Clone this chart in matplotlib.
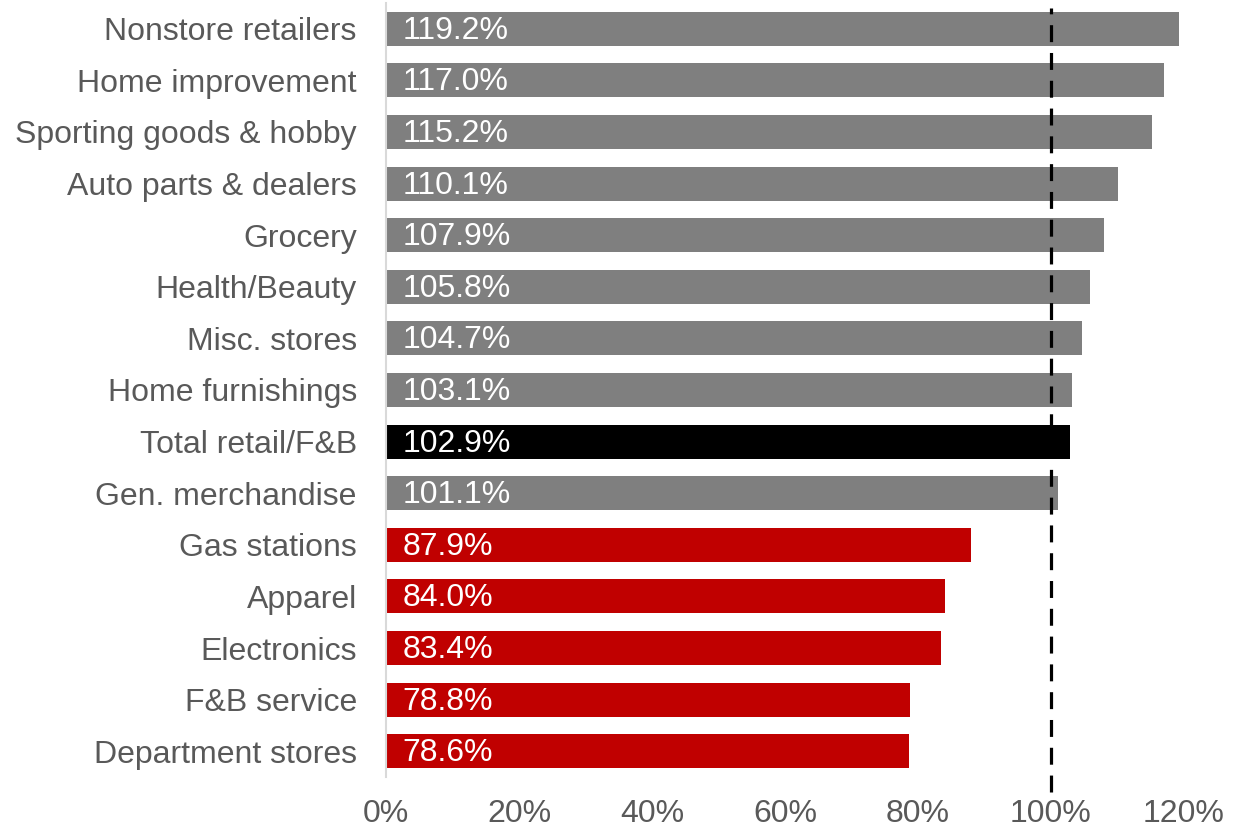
import matplotlib.pyplot as plt

# %% data
categories = ['Nonstore retailers', 'Home improvement', 'Sporting goods & hobby',
              'Auto parts & dealers', 'Grocery', 'Health/Beauty', 'Misc. stores',
              'Home furnishings', 'Total retail/F&B', 'Gen. merchandise',
              'Gas stations', 'Apparel', 'Electronics', 'F&B service',
              'Department stores']
values = [119.2, 117.0, 115.2, 110.1, 107.9, 105.8, 104.7, 103.1, 102.9, 101.1,
          87.9, 84.0, 83.4, 78.8, 78.6]
xticks = [0, 20, 40, 60, 80, 100, 120]

plt.rcParams['font.family'] = ['Liberation Sans', 'DejaVu Sans']

# %% colours: grey above 100, red below, black for the total
colors = []
for c, v in zip(categories, values):
    if c == 'Total retail/F&B':
        colors.append('black')
    elif v >= 100:
        colors.append('#7F7F7F')
    else:
        colors.append('#C00000')

fig = plt.figure(figsize=(12.53, 8.27), dpi=100)
ax = fig.add_axes([386 / 1253, 1 - 777 / 827, (1184 - 386) / 1253, 774 / 827])

y = range(len(categories))
ax.barh(y, values, height=0.66, color=colors, zorder=1)
for i, v in enumerate(values):
    ax.annotate(f'{v:.1f}%', xy=(0, i), xytext=(12, -1.5), textcoords='offset points',
                ha='left', va='center', color='white', fontsize=23, zorder=3)

ax.axvline(100, ymin=-0.02, ymax=0.994, color='black', lw=2.3,
           dashes=(5.3, 3.4), clip_on=False, zorder=2)

ax.set_xlim(0, 120)
ax.set_ylim(14.5, -0.5)
ax.set_yticks(list(y))
ax.set_yticklabels(categories, fontsize=23, color='#595959')
ax.set_xticks(xticks)
ax.set_xticklabels([f'{t}%' for t in xticks], fontsize=23, color='#595959')
ax.tick_params(axis='y', length=0, pad=21)
ax.tick_params(axis='x', length=0, pad=16)
ax.spines[['top', 'right', 'bottom']].set_visible(False)
ax.spines['left'].set_color('#D9D9D9')
ax.spines['left'].set_linewidth(1.5)

fig.savefig('out.png', dpi=100)
